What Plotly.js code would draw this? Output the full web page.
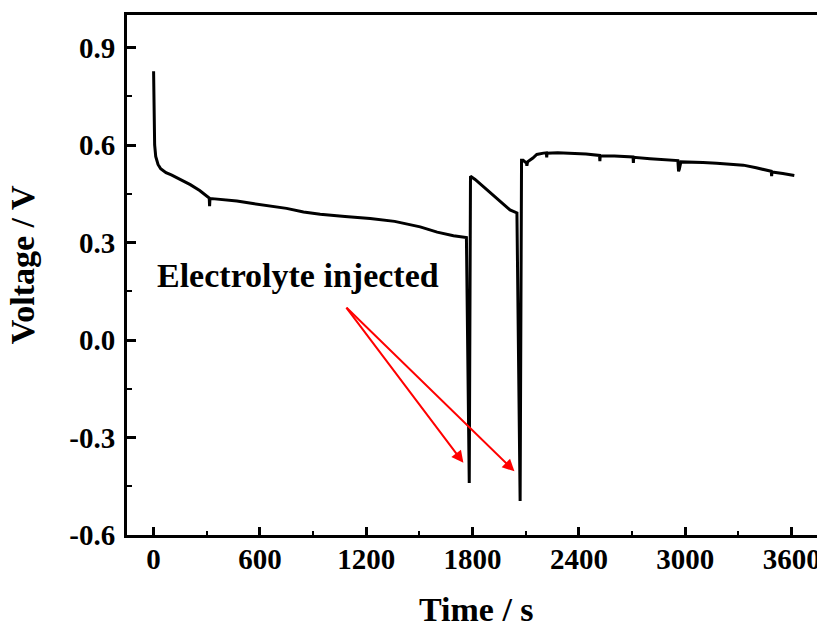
<!DOCTYPE html>
<html>
<head>
<meta charset="utf-8">
<script src="https://cdn.plot.ly/plotly-3.0.1.min.js"></script>
<style>
html,body{margin:0;padding:0;background:#fff;overflow:hidden;}
#chart{width:817px;height:624px;}
</style>
</head>
<body>
<div id="chart"></div>
<script>
// Time (s) and voltage (V)
const timeS = [0, 2, 4, 6, 12, 25, 40, 70, 100, 150, 207, 260, 300, 314, 316, 318, 330, 376, 470, 560, 658, 750, 846, 940, 1080, 1222, 1360, 1504, 1600, 1692, 1765,
  1781, 1788, 1814, 1880, 1955, 2011, 2050,
  2068, 2076, 2085, 2095, 2104, 2106, 2110, 2140, 2162, 2200, 2216, 2218, 2220, 2280, 2350, 2440, 2516, 2518, 2520, 2600, 2705, 2707, 2709, 2801, 2880, 2958, 2962, 2966, 2975, 3008, 3100, 3177, 3260, 3327, 3400, 3485, 3487, 3489, 3550, 3615];
const voltageV = [0.827, 0.72, 0.64, 0.60, 0.565, 0.54, 0.527, 0.515, 0.508, 0.495, 0.478, 0.46, 0.443, 0.437, 0.412, 0.435, 0.435, 0.433, 0.428, 0.42, 0.413, 0.405, 0.394, 0.387, 0.38, 0.374, 0.365, 0.348, 0.332, 0.321, 0.315,
  -0.44, 0.504, 0.494, 0.463, 0.427, 0.400, 0.391,
  -0.495, 0.553, 0.553, 0.548, 0.545, 0.536, 0.548, 0.56, 0.571, 0.575, 0.576, 0.562, 0.575, 0.576, 0.575, 0.572, 0.568, 0.55, 0.567, 0.566, 0.563, 0.545, 0.562, 0.558, 0.555, 0.552, 0.519, 0.525, 0.548, 0.548, 0.546, 0.544, 0.54, 0.538, 0.53, 0.519, 0.504, 0.517, 0.512, 0.506];

const xTickVals = [0, 600, 1200, 1800, 2400, 3000, 3600];
const xTickText = ["0", "600", "1200", "1800", "2400", "3000", "3600"];
const yTickVals = [-0.6, -0.3, 0.0, 0.3, 0.6, 0.9];
const yTickText = ["-0.6", "-0.3", "0.0", "0.3", "0.6", "0.9"];

const xTitle = "Time / s";
const yTitle = "Voltage / V";
const labelText = "Electrolyte injected";
const arrowTail = [1081, 0.104];
const arrowHeads = [[1748, -0.378], [2036, -0.404]];

const fontFam = 'Liberation Serif, Times New Roman, serif';
const bold = s => '<b>' + s + '</b>';

const trace = {
  x: timeS, y: voltageV, type: 'scatter', mode: 'lines',
  line: {color: '#000', width: 3, shape: 'linear'},
  hoverinfo: 'skip'
};

const annotations = [{
  x: 10, y: 0.2, xref: 'x', yref: 'y', xanchor: 'left', yanchor: 'middle',
  text: bold(labelText), showarrow: false,
  font: {family: fontFam, size: 34, color: '#000'}
}, {
  x: 0.507, y: -0.143, xref: 'paper', yref: 'paper', xanchor: 'center', yanchor: 'middle',
  text: bold(xTitle), showarrow: false, borderpad: 0,
  font: {family: fontFam, size: 34, color: '#000'}
}, {
  x: -0.152, y: 0.519, xref: 'paper', yref: 'paper', xanchor: 'center', yanchor: 'middle',
  text: bold(yTitle), showarrow: false, textangle: -90,
  font: {family: fontFam, size: 34, color: '#000'}
}];
arrowHeads.forEach(h => annotations.push({
  x: h[0], y: h[1], xref: 'x', yref: 'y',
  ax: arrowTail[0], ay: arrowTail[1], axref: 'x', ayref: 'y',
  text: '', showarrow: true, arrowcolor: '#ff0000', arrowwidth: 2,
  arrowhead: 2, arrowsize: 1.2, standoff: 0, startstandoff: 0
}));

const layout = {
  width: 817, height: 624,
  margin: {l: 127, r: 0, t: 15, b: 89, pad: 0},
  paper_bgcolor: '#fff', plot_bgcolor: '#fff',
  showlegend: false,
  font: {family: fontFam, color: '#000', size: 28},
  xaxis: {
    range: [-150, 3743], showgrid: false, zeroline: false,
    showline: true, linecolor: '#000', linewidth: 3, mirror: true,
    ticks: 'inside', ticklen: 8, tickwidth: 3, tickcolor: '#000',
    tickvals: xTickVals, ticktext: xTickText.map(bold),
    tickfont: {family: fontFam, size: 29, color: '#000'},
    ticklabelstandoff: -4, ticklabeloverflow: 'allow',
    minor: {ticks: 'inside', ticklen: 4, tickwidth: 2, tickcolor: '#000', dtick: 300, tick0: 0, showgrid: false}
  },
  yaxis: {
    range: [-0.6, 1.0], showgrid: false, zeroline: false,
    showline: true, linecolor: '#000', linewidth: 3, mirror: false,
    ticks: 'inside', ticklen: 9, tickwidth: 3, tickcolor: '#000',
    tickvals: yTickVals, ticktext: yTickText.map(bold),
    tickfont: {family: fontFam, size: 29, color: '#000'},
    ticklabelstandoff: 3,
    minor: {ticks: 'inside', ticklen: 5, tickwidth: 2, tickcolor: '#000', dtick: 0.15, tick0: 0, showgrid: false}
  },
  annotations: annotations
};

Plotly.newPlot('chart', [trace], layout, {staticPlot: true, displayModeBar: false});
</script>
</body>
</html>
